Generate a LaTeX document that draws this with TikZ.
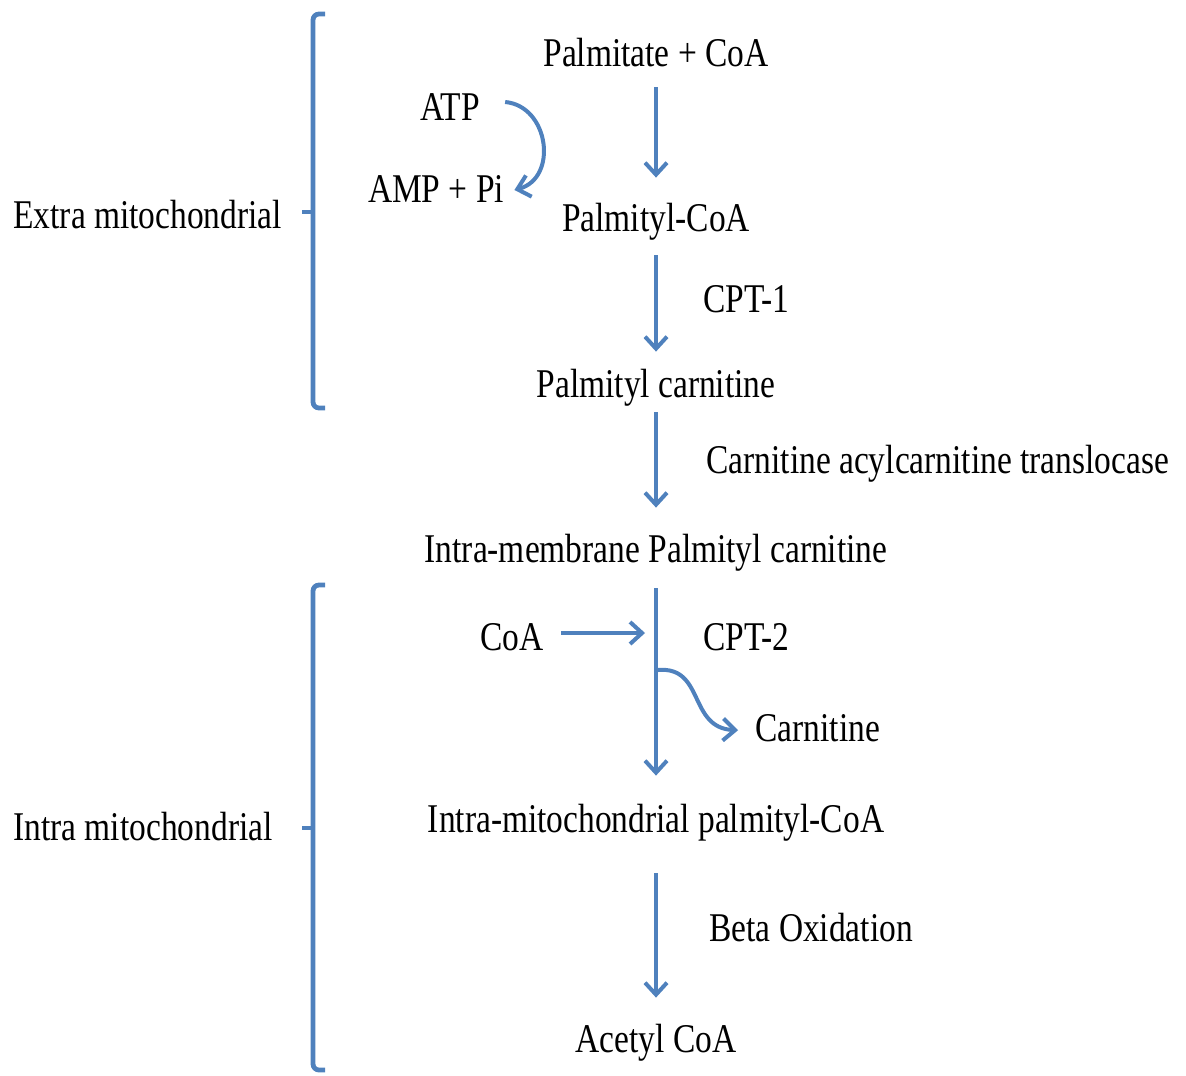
\documentclass[tikz,border=0pt]{standalone}
\usepackage{fontspec}
\setmainfont{Liberation Serif}[FakeStretch=0.82]
\usetikzlibrary{arrows.meta}
\definecolor{flowblue}{RGB}{79,129,189}

\begin{document}
\begin{tikzpicture}[x=0.5pt, y=-0.5pt,
  lbl/.style={inner sep=0pt, text height=14pt, text depth=4pt, font=\fontsize{20.4}{24}\selectfont},
  flow/.style={draw=flowblue, line width=2pt, -{Straight Barb[length=6pt,width=11pt]}},
  brace/.style={draw=flowblue, line width=2.4pt, rounded corners=3pt}]
\useasboundingbox (0,0) rectangle (1186,1075);
\node  (palm)[lbl, anchor=base] at (656,67) {Palmitate + CoA};
\node  (atp)[lbl, anchor=base] at (450,121) {ATP};
\node  (amp)[lbl, anchor=base] at (436,203) {AMP + Pi};
\node  (palmcoa)[lbl, anchor=base] at (656,231) {Palmityl-CoA};
\node  (cpt1)[lbl, anchor=base west] at (703,312) {CPT-1};
\node  (palmcarn)[lbl, anchor=base] at (656,397) {Palmityl carnitine};
\node  (cact)[lbl, anchor=base west] at (706,473) {Carnitine acylcarnitine translocase};
\node  (membrane)[lbl, anchor=base] at (656,562) {Intra-membrane Palmityl carnitine};
\node  (coa)[lbl, anchor=base] at (512,650) {CoA};
\node  (cpt2)[lbl, anchor=base west] at (703,650) {CPT-2};
\node  (carn)[lbl, anchor=base west] at (755,741) {Carnitine};
\node  (intramito)[lbl, anchor=base] at (656,832) {Intra-mitochondrial palmityl-CoA};
\node  (beta)[lbl, anchor=base west] at (709,941) {Beta Oxidation};
\node  (acetyl)[lbl, anchor=base] at (656,1052) {Acetyl CoA};
\node  (extra)[lbl, anchor=base west] at (13,228) {Extra mitochondrial};
\node  (intra)[lbl, anchor=base west] at (13,840) {Intra mitochondrial};
\coordinate (join) at (645,633);
\coordinate (split) at (658,670);
\draw[flow, shorten <=6pt, shorten >=12.5pt] (palm.south) -- (palmcoa.north);
\draw[flow, shorten <=8pt, shorten >=8.5pt] (palmcoa.south) -- (palmcarn.north);
\draw[flow, shorten <=3.5pt, shorten >=13pt] (palmcarn.south) -- (membrane.north);
\draw[flow, shorten <=9pt, shorten >=14pt] (membrane.south) -- (intramito.north);
\draw[flow, shorten <=16.5pt, shorten >=13pt] (intramito.south) -- (acetyl.north);
\draw[flow, shorten <=8.5pt] (coa.east |- join) -- (join);
\draw[flow, shorten >=8.5pt] (split) .. controls (705,666) and (688,728) .. (carn.west);
\draw[flow] ([xshift=12.5pt,yshift=4.5pt]atp.east) .. controls +(22pt,-2pt) and +(22pt,6pt) .. ([xshift=5pt,yshift=1.5pt]amp.east);
\draw[brace] (325,14) -- (313,14) -- (313,408) -- (325,408);
\draw[brace] (313,212) -- (302,212);
\draw[brace] (325,585) -- (313,585) -- (313,1070) -- (325,1070);
\draw[brace] (313,828) -- (302,828);
\end{tikzpicture}
\end{document}
